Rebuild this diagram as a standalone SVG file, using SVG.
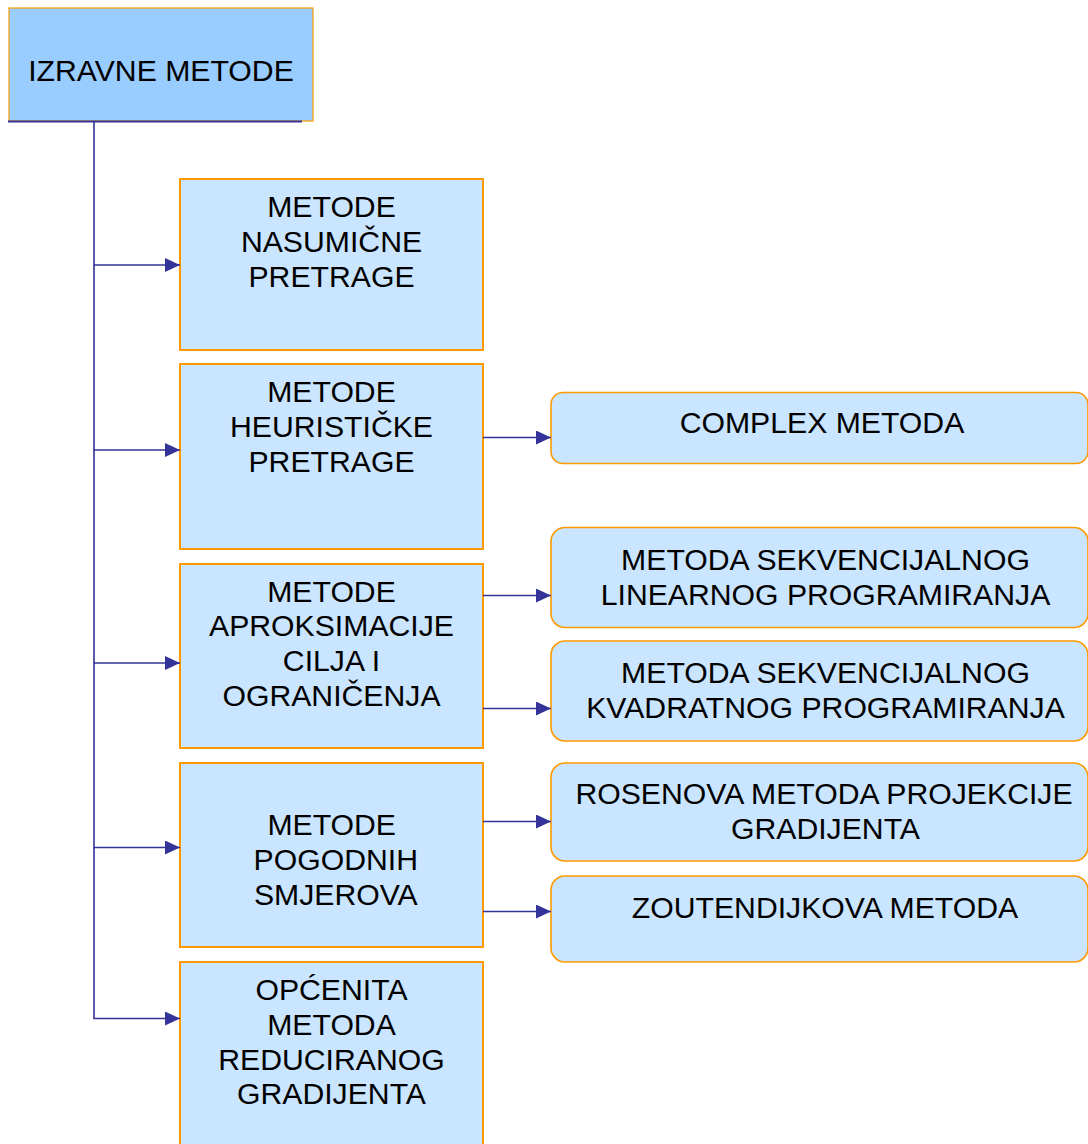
<svg xmlns="http://www.w3.org/2000/svg" width="1088" height="1144" viewBox="0 0 1088 1144">
<style>
.box{fill:#CAE5FF;stroke:#FF9900;stroke-width:2}
.rbox{fill:#CAE5FF;stroke:#FF9900;stroke-width:1.6}
.top{fill:#99CCFF;stroke:#FF9900;stroke-width:1.2}
.t{font-family:"Liberation Sans",Arial,sans-serif;font-size:30.2px;fill:#000;text-anchor:middle}
.c{fill:none;stroke:#333399;stroke-width:1.6}
</style>
<defs>
<marker id="ah" viewBox="0 0 15 14" refX="15" refY="7" markerWidth="15" markerHeight="14" markerUnits="userSpaceOnUse" orient="auto">
<path d="M0,0 L15,7 L0,14 z" fill="#333399"/>
</marker>
</defs>
<rect width="1088" height="1144" fill="#fff"/>
<g id="n-root">
<rect class="top" x="9" y="8" width="304" height="113"/>
<text class="t" x="161" y="81">IZRAVNE METODE</text>
</g>
<g id="n-nasumicne">
<rect class="box" x="180" y="179" width="303" height="171"/>
<text class="t" x="331.5" y="216.7">METODE</text>
<text class="t" x="331.5" y="251.7">NASUMIČNE</text>
<text class="t" x="331.5" y="286.7">PRETRAGE</text>
</g>
<g id="n-heuristicke">
<rect class="box" x="180" y="364" width="303" height="185"/>
<text class="t" x="331.5" y="401.7">METODE</text>
<text class="t" x="331.5" y="436.7">HEURISTIČKE</text>
<text class="t" x="331.5" y="471.7">PRETRAGE</text>
</g>
<g id="n-aproksimacije">
<rect class="box" x="180" y="564" width="303" height="184"/>
<text class="t" x="331.5" y="601.5">METODE</text>
<text class="t" x="331.5" y="636">APROKSIMACIJE</text>
<text class="t" x="331.5" y="670.5">CILJA I</text>
<text class="t" x="331.5" y="705.5">OGRANIČENJA</text>
</g>
<g id="n-pogodnih">
<rect class="box" x="180" y="763" width="303" height="184"/>
<text class="t" x="331.7" y="834.5">METODE</text>
<text class="t" x="335.8" y="870">POGODNIH</text>
<text class="t" x="335.8" y="905">SMJEROVA</text>
</g>
<g id="n-reduciranog">
<rect class="box" x="180" y="962" width="303" height="200"/>
<text class="t" x="331.5" y="1000">OPĆENITA</text>
<text class="t" x="331.5" y="1035">METODA</text>
<text class="t" x="331.5" y="1069.5">REDUCIRANOG</text>
<text class="t" x="331.5" y="1104">GRADIJENTA</text>
</g>
<g id="n-complex">
<rect class="rbox" x="551" y="392.5" width="537" height="71" rx="12"/>
<text class="t" x="822" y="433">COMPLEX METODA</text>
</g>
<g id="n-slp">
<rect class="rbox" x="551" y="527.5" width="537" height="100" rx="14"/>
<text class="t" x="825.5" y="569.7">METODA SEKVENCIJALNOG</text>
<text class="t" x="825.5" y="604.7">LINEARNOG PROGRAMIRANJA</text>
</g>
<g id="n-sqp">
<rect class="rbox" x="551" y="641" width="537" height="100" rx="14"/>
<text class="t" x="825.5" y="682.7">METODA SEKVENCIJALNOG</text>
<text class="t" x="825.5" y="717.7">KVADRATNOG PROGRAMIRANJA</text>
</g>
<g id="n-rosen">
<rect class="rbox" x="551" y="763" width="537" height="98" rx="14"/>
<text class="t" x="824" y="803.7">ROSENOVA METODA PROJEKCIJE</text>
<text class="t" x="825.5" y="838.7">GRADIJENTA</text>
</g>
<g id="n-zoutendijk">
<rect class="rbox" x="551" y="876" width="537" height="86" rx="14"/>
<text class="t" x="825" y="917.7">ZOUTENDIJKOVA METODA</text>
</g>
<g id="connectors">
<line x1="8" y1="121.5" x2="302" y2="121.5" stroke="#333399" stroke-width="1.8"/>
<path class="c" d="M94,121 V265 H180" marker-end="url(#ah)"/>
<path class="c" d="M94,265 V450 H180" marker-end="url(#ah)"/>
<path class="c" d="M94,450 V663 H180" marker-end="url(#ah)"/>
<path class="c" d="M94,663 V847.5 H180" marker-end="url(#ah)"/>
<path class="c" d="M94,847.5 V1018.5 H180" marker-end="url(#ah)"/>
<path class="c" d="M483,437.5 H551" marker-end="url(#ah)"/>
<path class="c" d="M483,595.5 H551" marker-end="url(#ah)"/>
<path class="c" d="M483,708.5 H551" marker-end="url(#ah)"/>
<path class="c" d="M483,821.5 H551" marker-end="url(#ah)"/>
<path class="c" d="M483,911.5 H551" marker-end="url(#ah)"/>
</g>
</svg>
